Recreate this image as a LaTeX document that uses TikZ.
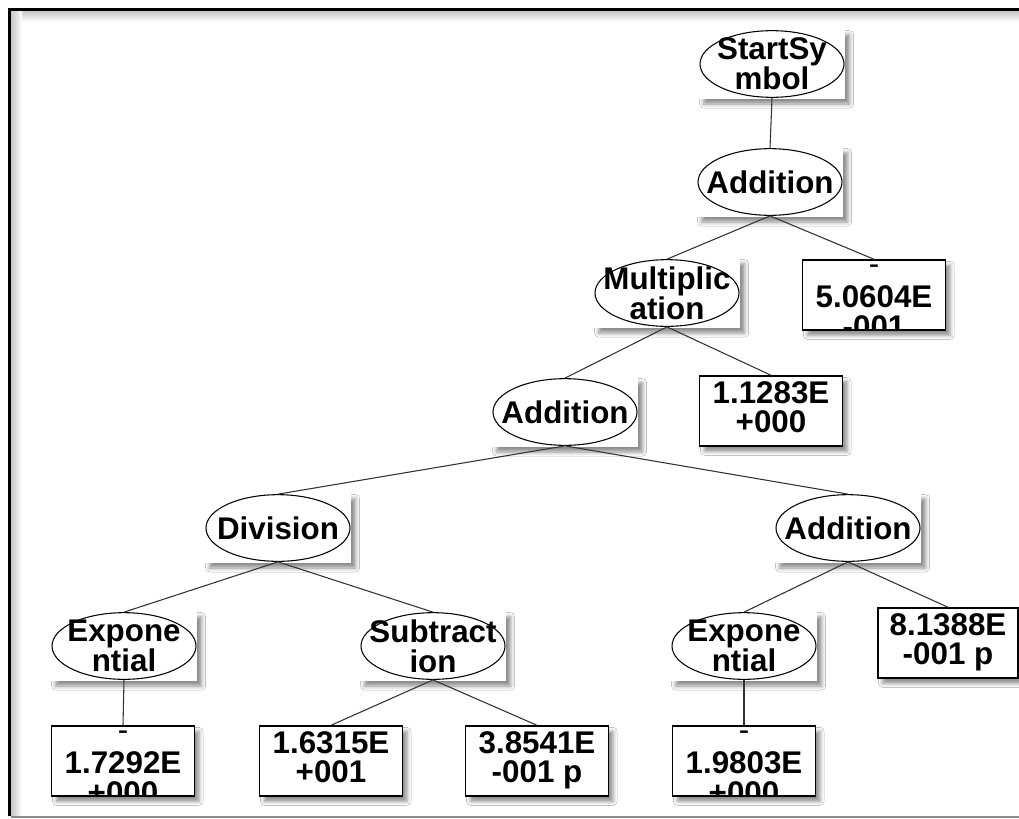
\documentclass[tikz,border=0pt]{standalone}
\usepackage{fontspec}
\setmainfont{Liberation Sans}
\usetikzlibrary{shapes.geometric,shadows.blur}

\begin{document}
\begin{tikzpicture}[x=0.75pt,y=-0.75pt,
  lbl/.style={font=\fontsize{23.5}{22.5}\selectfont\bfseries},
  thinlbl/.style={font=\fontsize{23.5}{22.5}\selectfont\mdseries},
  softshadow/.style={blur shadow={shadow xshift=3.5pt,shadow yshift=-4pt,shadow blur radius=3pt,shadow opacity=45}},
  backbox/.style={rectangle,fill=white,minimum width=109.5pt,minimum height=52pt,inner sep=0pt,softshadow},
  opnode/.style={ellipse,draw,line width=0.8pt,minimum width=108pt,minimum height=50pt,inner sep=-30pt,align=center,lbl},
  leaf/.style={rectangle,draw,line width=1.1pt,fill=white,minimum width=107pt,minimum height=52.5pt,inner sep=0pt,softshadow},
  leaftwo/.style 2 args={leaf,path picture={
      \node[lbl,anchor=base] at ([yshift=5.6pt]path picture bounding box.center) {#1};
      \node[lbl,anchor=base] at ([yshift=-15.75pt]path picture bounding box.center) {#2};}},
  leafthree/.style n args={3}{leaf,path picture={
      \node[thinlbl,anchor=base] at ([yshift=15.75pt]path picture bounding box.center) {#1};
      \node[lbl,anchor=base] at ([yshift=-9pt]path picture bounding box.center) {#2};
      \node[lbl,anchor=base] at ([yshift=-31.5pt]path picture bounding box.center) {#3};}},
  link/.style={line width=0.8pt,black!80}]

% canvas and window frame
\useasboundingbox (0,0) rectangle (1019,818);
\fill[white] (0,0) rectangle (1019,818);
\shade[top color=black!22,bottom color=white] (11,11) rectangle (1019,22);
\shade[left color=black!22,right color=white] (11,11) rectangle (22,816);
\draw[line width=2.6pt] (9.5,816) -- (9.5,9.5) -- (1019,9.5);
\draw[black!45,line width=1.5pt] (11,817) -- (1019,817);

% white cards behind the operator ellipses
\node[backbox] (bS)  at (772,64)  {};
\node[backbox] (bA1) at (770,182) {};
\node[backbox] (bM)  at (667,293) {};
\node[backbox] (bA2) at (565,412) {};
\node[backbox] (bD)  at (278,528) {};
\node[backbox] (bA3) at (848,528) {};
\node[backbox] (bEL) at (124,646) {};
\node[backbox] (bSu) at (433,646) {};
\node[backbox] (bER) at (744,646) {};

% operator nodes
\node[opnode] (start) at (bS)  {StartSy\\mbol};
\node[opnode] (add1)  at (bA1) {Addition};
\node[opnode] (mul)   at (bM)  {Multiplic\\ation};
\node[opnode] (add2)  at (bA2) {Addition};
\node[opnode] (div)   at (bD)  {Division};
\node[opnode] (add3)  at (bA3) {Addition};
\node[opnode] (expL)  at (bEL) {Expone\\ntial};
\node[opnode] (sub)   at (bSu) {Subtract\\ion};
\node[opnode] (expR)  at (bER) {Expone\\ntial};

% constant leaves
\node[leafthree={-}{5.0604E}{-001}] (c1) at (874,295) {};
\node[leaftwo={1.1283E}{+000}]      (c2) at (771,411) {};
\node[leaftwo={8.1388E}{-001 p}, minimum width=105pt] (c3) at (948,643) {};
\node[leafthree={-}{1.7292E}{+000}] (c4) at (123,761) {};
\node[leaftwo={1.6315E}{+001}]      (c5) at (331,761) {};
\node[leaftwo={3.8541E}{-001 p}]    (c6) at (537,761) {};
\node[leafthree={-}{1.9803E}{+000}] (c7) at (744,761) {};

% tree edges
\draw[link] (start.south) -- (add1.north);
\draw[link] (add1.south) -- (mul.north);
\draw[link] (add1.south) -- (c1.north);
\draw[link] (mul.south) -- (add2.north);
\draw[link] (mul.south) -- (c2.north);
\draw[link] (add2.south) -- (div.north);
\draw[link] (add2.south) -- (add3.north);
\draw[link] (div.south) -- (expL.north);
\draw[link] (div.south) -- (sub.north);
\draw[link] (add3.south) -- (expR.north);
\draw[link] (add3.south) -- (c3.north);
\draw[link] (expL.south) -- (c4.north);
\draw[link] (sub.south) -- (c5.north);
\draw[link] (sub.south) -- (c6.north);
\draw[link] (expR.south) -- (c7.north);
\end{tikzpicture}
\end{document}
